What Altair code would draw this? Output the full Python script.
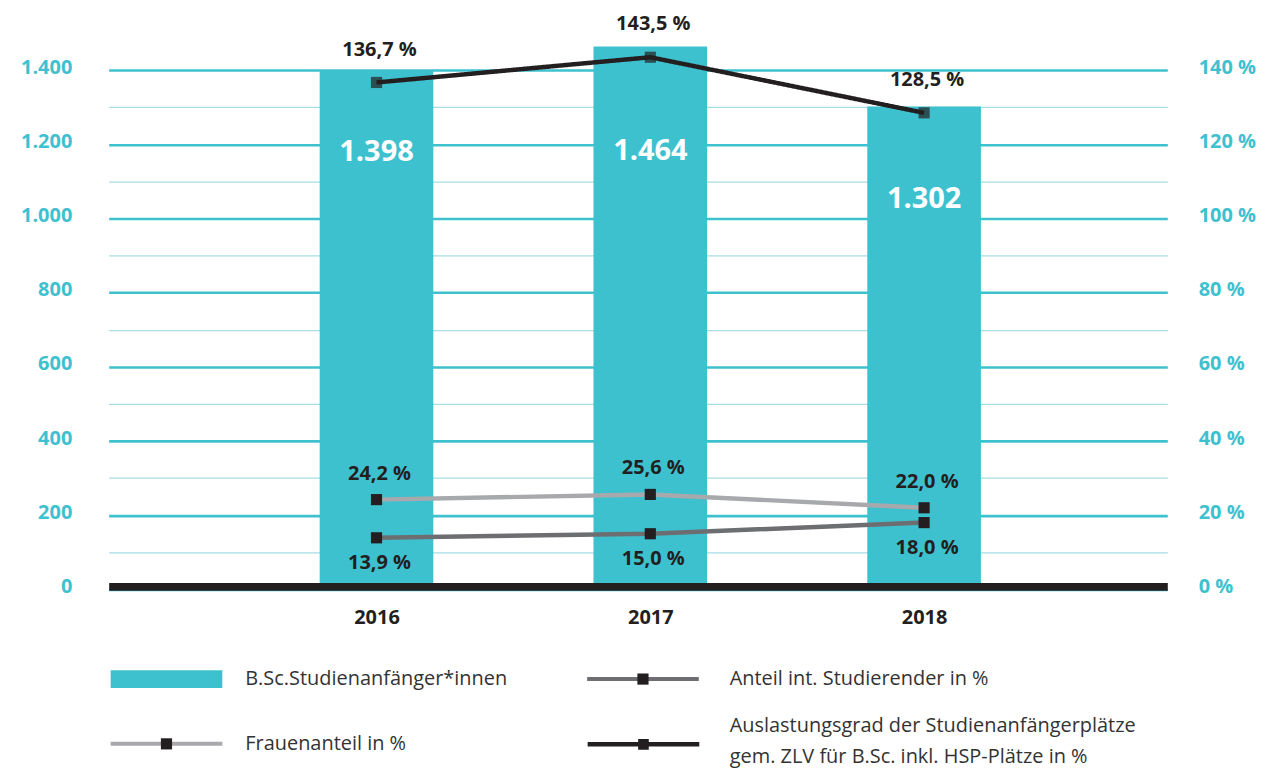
import altair as alt
import pandas as pd

# ---------------- data ----------------
YEARS = [2016, 2017, 2018]
STUDIENANFAENGER = [1398, 1464, 1302]
AUSLASTUNG = [136.7, 143.5, 128.5]
FRAUENANTEIL = [24.2, 25.6, 22.0]
ANTEIL_INT = [13.9, 15.0, 18.0]

LEFT_TICKS = [0, 100, 200, 300, 400, 500, 600, 700, 800, 900, 1000, 1100, 1200, 1300, 1400]
RIGHT_TICKS = [0, 20, 40, 60, 80, 100, 120, 140]

BAR_NAME = "B.Sc.Studienanfänger*innen"
S_ANTEIL = "Anteil int. Studierender in %"
S_FRAUEN = "Frauenanteil in %"
S_AUSL = "Auslastungsgrad der Studienanfängerplätze\ngem. ZLV für B.Sc. inkl. HSP-Plätze in %"
S_AUSL_LINES = S_AUSL.split("\n")

# ---------------- styles ----------------
TEAL = "#3EC1CF"
TEAL_LIGHT = "#A6DEE5"
DARK = "#231F20"
GRAY_LIGHT = "#A7A9AC"
GRAY_DARK = "#6D6E71"
FONT = "Open Sans"
BAR_LABEL_DY = {2016: 81, 2017: 105, 2018: 93}
SERIES_LABEL_DY = {S_AUSL: -33, S_FRAUEN: -26, S_ANTEIL: 25}

bars_df = pd.DataFrame({"year": YEARS, "value": STUDIENANFAENGER, "name": [BAR_NAME] * 3})
lines_df = pd.DataFrame({
    "year": YEARS * 3,
    "value": AUSLASTUNG + FRAUENANTEIL + ANTEIL_INT,
    "series": [S_AUSL] * 3 + [S_FRAUEN] * 3 + [S_ANTEIL] * 3,
})

x_scale = alt.Scale(domain=[2015.04, 2018.87], nice=False, zero=False)
x_axis = alt.Axis(values=YEARS, format="d", title=None, grid=False, ticks=False,
                  domain=True, domainColor=DARK, domainWidth=8, offset=-3,
                  labelFont=FONT, labelFontSize=20, labelFontWeight="bold",
                  labelColor=DARK, labelPadding=21, zindex=1)

left_axis = alt.Axis(values=LEFT_TICKS, title=None, domain=False, ticks=False,
                     labelExpr="datum.value % 200 == 0 ? replace(format(datum.value, ','), ',', '.') : ''",
                     labelOverlap=False, labelPadding=37, labelColor=TEAL,
                     labelFont=FONT, labelFontSize=20, labelFontWeight="bold",
                     labelOffset=-3,
                     grid=True,
                     gridColor={"condition": {"test": "datum.value % 200 == 0", "value": TEAL}, "value": TEAL_LIGHT},
                     gridWidth={"condition": {"test": "datum.value % 200 == 0", "value": 2.6}, "value": 1.3})

right_axis = alt.Axis(values=RIGHT_TICKS, orient="right", title=None, domain=False, ticks=False,
                      grid=False, labelExpr="datum.value + ' %'", labelOverlap=False,
                      labelPadding=31, labelColor=TEAL, labelFont=FONT, labelFontSize=20,
                      labelFontWeight="bold", labelOffset=-3)

X = alt.X("year:Q", scale=x_scale, axis=x_axis)

# ---------------- legends (one per entry, placed in a 2 x 2 grid) ----------------
SYM_SIZE = 12544
COL_X = [0, 478]
COL_LABEL_OFFSET = [21, 29]
ROW_Y = [590, 655]
TEXT_LINE_Y = [637, 668]   # the two text lines of the last (two-line) entry
SQ = "M-0.1,-0.1H0.1V0.1H-0.1Z"
LINE_SYM = "M-1,0H1"
LINE_SQ_SYM = "M-1,0H1M-0.055,-0.055H0.055V0.055H-0.055Z"


def entry_legend(col, y, **kw):
    base = dict(orient="none", legendX=COL_X[col], legendY=y, title=None, padding=0,
                labelFont=FONT, labelFontSize=20, labelColor="#333333",
                labelOffset=COL_LABEL_OFFSET[col],
                labelLimit=700, symbolSize=SYM_SIZE, symbolStrokeWidth=4)
    base.update(kw)
    return alt.Legend(**base)


def square_legend(col, y):
    return entry_legend(col, y, symbolType=SQ, symbolFillColor=DARK,
                        symbolStrokeColor="transparent", labelExpr="''")


def text_only_legend(col, y):
    return entry_legend(col, y, symbolType=LINE_SYM, symbolFillColor="transparent",
                        symbolStrokeColor="transparent")


bar_legend = entry_legend(0, ROW_Y[0], symbolType="M-1,-0.16H1V0.16H-1Z",
                          symbolStrokeColor="transparent")

# ---------------- bar group ----------------
bars = alt.Chart().mark_bar(size=114).encode(
    fill=alt.Fill("name:N", scale=alt.Scale(domain=[BAR_NAME], range=[TEAL]), legend=bar_legend)
)
bar_texts = [
    alt.Chart().transform_filter(alt.datum.year == yr)
    .transform_calculate(label="replace(format(datum.value, ','), ',', '.')")
    .mark_text(dy=BAR_LABEL_DY[yr], color="white", font=FONT, fontSize=29,
               fontWeight="bold", baseline="middle")
    .encode(text="label:N")
    for yr in YEARS
]
bar_group = alt.layer(bars, *bar_texts, data=bars_df).encode(
    x=X, y=alt.Y("value:Q", scale=alt.Scale(domain=[0, 1500], nice=False), axis=left_axis)
)

# ---------------- line group ----------------
def series_base(s):
    return alt.Chart().transform_filter(alt.datum.series == s).transform_calculate(
        sq="datum.series + '#'",
        line1="split(datum.series, '\\n')[0]",
        line2="split(datum.series, '\\n')[1]",
        label="replace(format(datum.value, '.1f'), '.', ',') + ' %'",
    )


def series_label(s):
    return series_base(s).mark_text(dy=SERIES_LABEL_DY[s], dx=3, color=DARK, font=FONT,
                                    fontSize=20, fontWeight="bold",
                                    baseline="middle").encode(text="label:N")


# Anteil int. Studierender: stroke + shape legends (row 1, col 2)
anteil_line = series_base(S_ANTEIL).mark_line(strokeWidth=4.5).encode(
    stroke=alt.Stroke("series:N", scale=alt.Scale(domain=[S_ANTEIL], range=[GRAY_DARK]),
                      legend=entry_legend(1, ROW_Y[0], symbolType=LINE_SYM,
                                          symbolFillColor="transparent")))
anteil_pts = series_base(S_ANTEIL).mark_point(filled=True, color=DARK, opacity=1, size=SYM_SIZE).encode(
    shape=alt.Shape("sq:N", scale=alt.Scale(domain=[S_ANTEIL + "#"], range=[SQ]),
                    legend=square_legend(1, ROW_Y[0])))

# Frauenanteil: color + opacity legends (row 2, col 1)
frauen_line = series_base(S_FRAUEN).mark_line(strokeWidth=4.5).encode(
    color=alt.Color("series:N", scale=alt.Scale(domain=[S_FRAUEN], range=[GRAY_LIGHT]),
                    legend=entry_legend(0, ROW_Y[1], symbolType=LINE_SYM,
                                        symbolFillColor="transparent",
                                        symbolStrokeColor=GRAY_LIGHT)))
frauen_pts = series_base(S_FRAUEN).mark_point(filled=True, color=DARK, shape=SQ, size=SYM_SIZE).encode(
    opacity=alt.Opacity("sq:N", scale=alt.Scale(domain=[S_FRAUEN + "#"], range=[1, 1]),
                        legend=square_legend(0, ROW_Y[1])))

# Auslastungsgrad: line+square symbol via strokeWidth legend, its two text lines via
# strokeDash (line) and size (points) legends (row 2, col 2)
ausl_line = series_base(S_AUSL).mark_line(color=DARK).encode(
    strokeWidth=alt.StrokeWidth("series:N", scale=alt.Scale(domain=[S_AUSL], range=[4.5, 4.5]),
                                legend=entry_legend(1, ROW_Y[1], symbolType=LINE_SQ_SYM,
                                                    symbolFillColor=DARK,
                                                    symbolStrokeColor=DARK, labelExpr="''")),
    strokeDash=alt.StrokeDash("line1:N", scale=alt.Scale(domain=[S_AUSL_LINES[0]], range=[[1, 0]]),
                              legend=text_only_legend(1, TEXT_LINE_Y[0])),
)
ausl_pts = series_base(S_AUSL).mark_point(filled=True, color=DARK, shape=SQ).encode(
    size=alt.Size("line2:N", scale=alt.Scale(domain=[S_AUSL_LINES[1]], range=[SYM_SIZE, SYM_SIZE]),
                  legend=text_only_legend(1, TEXT_LINE_Y[1])),
)

line_group = alt.layer(
    frauen_line, anteil_line, ausl_line,
    frauen_pts, anteil_pts, ausl_pts,
    series_label(S_AUSL), series_label(S_FRAUEN), series_label(S_ANTEIL),
    data=lines_df,
).encode(
    x=X, y=alt.Y("value:Q", scale=alt.Scale(domain=[0, 150], nice=False), axis=right_axis)
)

chart = (
    alt.layer(bar_group, line_group)
    .resolve_scale(y="independent")
    .properties(width=1062, height=558,
                autosize=alt.AutoSizeParams(type="none"),
                padding={"left": 101, "top": 24, "right": 90, "bottom": 180},
                background="white")
    .configure_view(stroke=None)
)

chart.save("out.html", embed_options={"renderer": "svg", "actions": False})
